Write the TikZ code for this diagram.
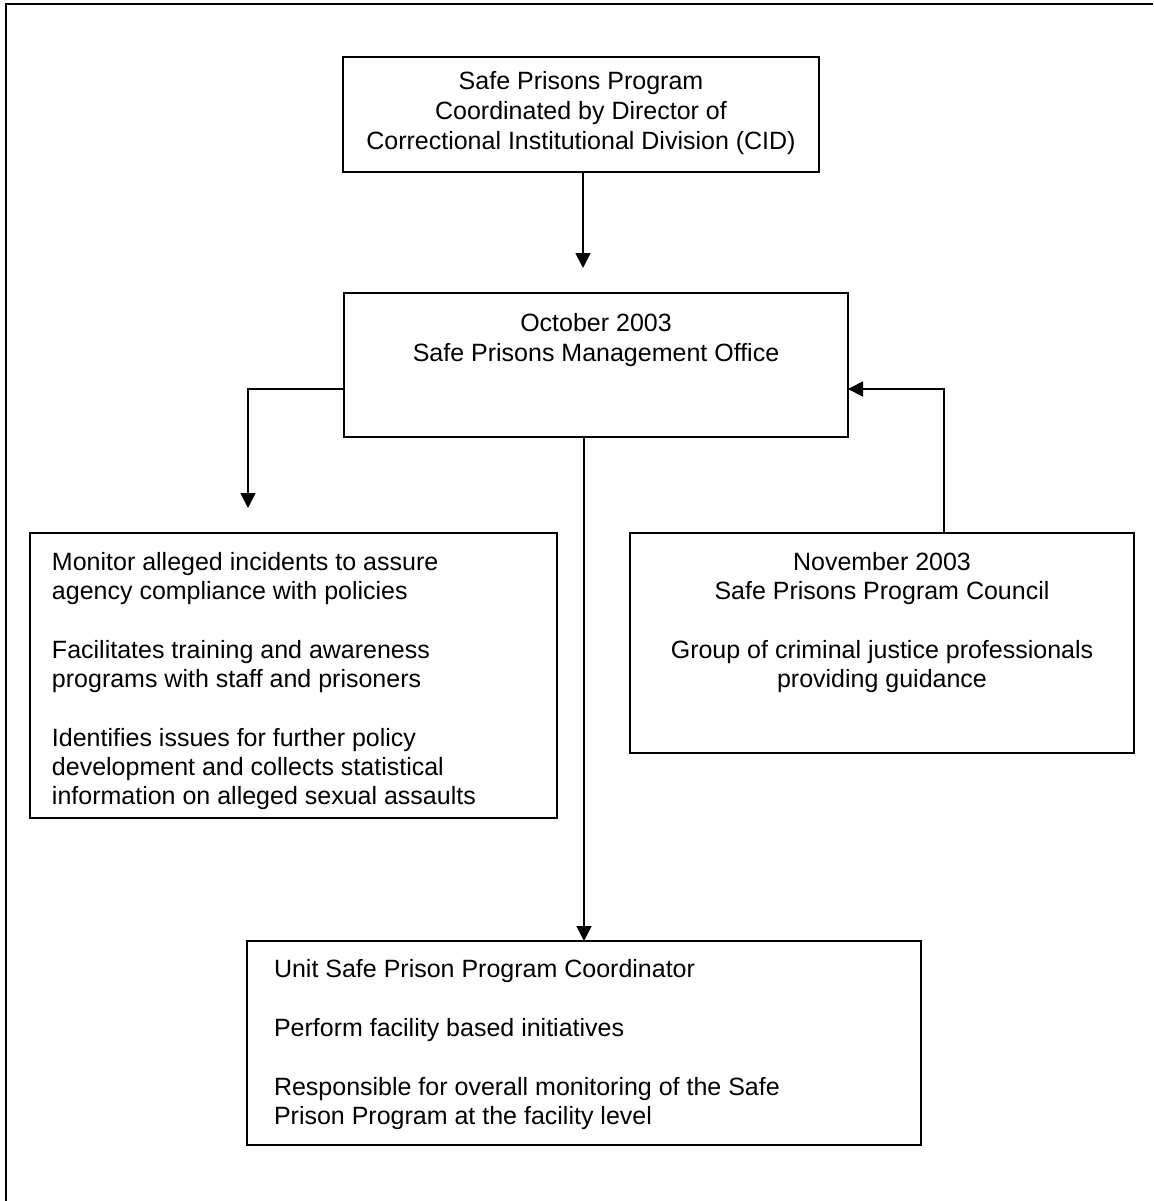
\documentclass[tikz,border=0pt]{standalone}
\usepackage{fontspec}
\setmainfont{Liberation Sans}
\usetikzlibrary{arrows.meta}
\begin{document}
\begin{tikzpicture}[x=0.5pt,y=-0.5pt,
  box/.style={draw=black,line width=0.9pt,inner sep=0pt,outer sep=0pt},
  txt/.style={inner sep=0pt,outer sep=0pt,font=\fontsize{12.5}{15}\selectfont},
  ctxt/.style={txt,anchor=base},
  ltxt/.style={txt,anchor=base west},
  conn/.style={line width=0.85pt},
  arr/.style={conn,-{Triangle[length=7.5pt,width=7.5pt]}}]
\useasboundingbox (0,0) rectangle (1153,1201);
% frame
\draw[line width=1pt] (6,1201) -- (6,4) -- (1153,4);
% boxes
\node[box,minimum width=238pt,minimum height=57.5pt] (b1) at (581,114.5) {};
\node[box,minimum width=252pt,minimum height=72pt] (b2) at (596,365) {};
\node[box,minimum width=263.5pt,minimum height=142.5pt] (b3) at (293.5,675.5) {};
\node[box,minimum width=252pt,minimum height=110pt] (b5) at (882,643) {};
\node[box,minimum width=337pt,minimum height=102pt] (b4) at (584,1043) {};
% texts box 1
\node[ctxt] (t1a) at (581,89) {Safe Prisons Program};
\node[ctxt] (t1b) at (581,119) {Coordinated by Director of};
\node[ctxt] (t1c) at (581,149) {Correctional Institutional Division (CID)};
% box 2
\node[ctxt] (t2a) at (596,331) {October 2003};
\node[ctxt] (t2b) at (596,361) {Safe Prisons Management Office};
% box 3
\node[ltxt] (t3a) at (52,570) {Monitor alleged incidents to assure};
\node[ltxt] (t3b) at (52,599) {agency compliance with policies};
\node[ltxt] (t3c) at (52,658) {Facilitates training and awareness};
\node[ltxt] (t3d) at (52,687) {programs with staff and prisoners};
\node[ltxt] (t3e) at (52,746) {Identifies issues for further policy};
\node[ltxt] (t3f) at (52,775) {development and collects statistical};
\node[ltxt] (t3g) at (52,804) {information on alleged sexual assaults};
% box 5
\node[ctxt] (t5a) at (882,570) {November 2003};
\node[ctxt] (t5b) at (882,599) {Safe Prisons Program Council};
\node[ctxt] (t5c) at (882,658) {Group of criminal justice professionals};
\node[ctxt] (t5d) at (882,687) {providing guidance};
% box 4
\node[ltxt] (t4a) at (274,977) {Unit Safe Prison Program Coordinator};
\node[ltxt] (t4b) at (274,1036) {Perform facility based initiatives};
\node[ltxt] (t4c) at (274,1095) {Responsible for overall monitoring of the Safe};
\node[ltxt] (t4d) at (274,1124) {Prison Program at the facility level};
% connectors
\coordinate (a1) at (583,268);
\draw[arr] (b1.south -| a1) -- (a1);
\coordinate (j2) at (248,389);
\coordinate (a2) at (248,508);
\draw[arr] (b2.west |- j2) -- (j2) -- (a2);
\draw[arr] (b2.south -| b4.north) -- (b4.north);
\coordinate (j5) at (944,389);
\draw[arr] (b5.north -| j5) -- (j5) -- (b2.east |- j5);
\end{tikzpicture}
\end{document}
